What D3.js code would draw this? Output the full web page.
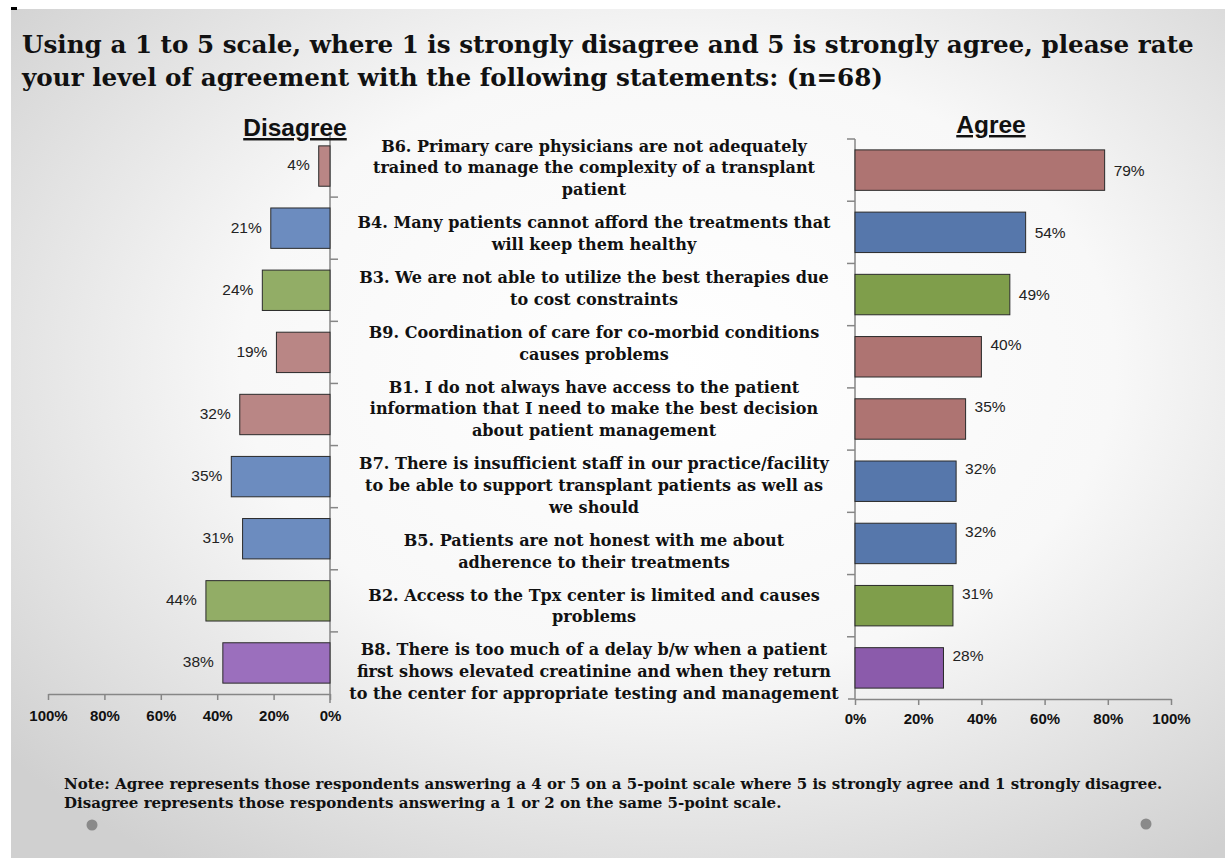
<!DOCTYPE html>
<html>
<head>
<meta charset="utf-8">
<script src="https://cdn.jsdelivr.net/npm/d3@7"></script>
<style>
  body { margin: 0; background: #fff; }
  svg { display: block; }
</style>
</head>
<body>
<div id="chart"></div>
<script>
// survey items, top to bottom
const categories = ["B6", "B4", "B3", "B9", "B1", "B7", "B5", "B2", "B8"]
const statements = [
  ["B6. Primary care physicians  are not adequately", "trained to manage the complexity of a transplant", "patient"],
  ["B4. Many patients cannot afford the treatments that", "will keep them healthy"],
  ["B3. We are not able to utilize the best therapies due", "to cost constraints"],
  ["B9. Coordination of care for co-morbid conditions", "causes problems"],
  ["B1. I do not always have access to the patient", "information that I need to make the best decision", "about patient management"],
  ["B7. There is insufficient  staff in our practice/facility", "to be able to support transplant patients as well as", "we should"],
  ["B5. Patients are not honest with me about", "adherence to their treatments"],
  ["B2. Access to the Tpx center is limited and causes", "problems"],
  ["B8.  There is too much of a delay b/w when a patient", "first shows elevated creatinine and when they return", "to the center for appropriate testing and management"]
]
const disagree = [4, 21, 24, 19, 32, 35, 31, 44, 38]
const agree = [79, 54, 49, 40, 35, 32, 32, 31, 28]
const group = ["rose", "blue", "green", "rose", "rose", "blue", "blue", "green", "purple"]
const xTicks = [0, 20, 40, 60, 80, 100]

const leftColor = {rose: "#b98685", blue: "#6c8cbf", green: "#92ad66", purple: "#9b6fbd"}
const rightColor = {rose: "#ae7472", blue: "#5677ab", green: "#7f9e4b", purple: "#8b5bab"}

const W = 1225, H = 858
const serif = "'DejaVu Serif', serif"
const sans = "'Liberation Sans', Arial, sans-serif"

const svg = d3.select("#chart").append("svg")
  .attr("width", W).attr("height", H)

// slide background
const defs = svg.append("defs")
const grad = defs.append("radialGradient").attr("id", "bg")
  .attr("cx", "55%").attr("cy", "42%").attr("r", "72%")
grad.append("stop").attr("offset", "0%").attr("stop-color", "#ffffff")
grad.append("stop").attr("offset", "50%").attr("stop-color", "#f8f8f8")
grad.append("stop").attr("offset", "100%").attr("stop-color", "#d0d0d0")

svg.append("rect").attr("x", 11).attr("y", 9).attr("width", W - 11).attr("height", H - 9)
  .attr("fill", "url(#bg)")
svg.append("rect").attr("x", 11).attr("y", 7).attr("width", 6).attr("height", 3).attr("fill", "#000")

// scale text so a line hits a given width
function fit(sel, target) {
  const w = sel.node().getComputedTextLength()
  const fs = parseFloat(sel.attr("font-size"))
  return fs * target / w
}

// title
const title = svg.append("g").attr("font-family", serif).attr("font-weight", "bold").attr("fill", "#111")
const t1 = title.append("text").attr("x", 22).attr("y", 53).attr("font-size", 22)
  .text("Using a 1 to 5 scale, where 1 is strongly disagree and 5 is strongly agree, please rate")
const titleSize = fit(t1, 1172)
t1.attr("font-size", titleSize)
title.append("text").attr("x", 22).attr("y", 86).attr("font-size", titleSize)
  .text("your level of agreement with the following statements: (n=68)")

// scales
const leftX = d3.scaleLinear().domain([0, 100]).range([330, 48])
const rightX = d3.scaleLinear().domain([0, 100]).range([855, 1171])
const leftY = d3.scaleBand().domain(categories).range([135, 694]).paddingInner(0.35).paddingOuter(0.175)
const rightY = d3.scaleBand().domain(categories).range([139, 699]).paddingInner(0.35).paddingOuter(0.175)

const axisColor = "#868686"

// ---- left (disagree) ----
const left = svg.append("g")

left.append("g")
  .attr("transform", "translate(0,694)")
  .call(d3.axisBottom(leftX).tickValues(xTicks).tickFormat(d => d + "%").tickSize(6).tickSizeOuter(0))
  .call(g => g.selectAll("path, line").attr("stroke", axisColor).attr("stroke-width", 1.5))
  .call(g => g.selectAll("text").attr("font-family", sans).attr("font-weight", "bold")
    .attr("font-size", 15).attr("fill", "#111").attr("dy", "1.2em"))

left.append("line").attr("x1", leftX(0)).attr("x2", leftX(0)).attr("y1", 133).attr("y2", 703)
  .attr("stroke", axisColor).attr("stroke-width", 1.5)

left.selectAll(".ctick").data(categories.slice(1)).enter().append("line")
  .attr("x1", leftX(0)).attr("x2", leftX(0) + 8)
  .attr("y1", d => leftY(d) - leftY.step() * leftY.paddingInner() / 2)
  .attr("y2", d => leftY(d) - leftY.step() * leftY.paddingInner() / 2)
  .attr("stroke", axisColor).attr("stroke-width", 1.5)

left.selectAll("rect.bar").data(categories).enter().append("rect")
  .attr("x", (d, i) => leftX(disagree[i]))
  .attr("y", d => leftY(d))
  .attr("width", (d, i) => leftX(0) - leftX(disagree[i]))
  .attr("height", leftY.bandwidth())
  .attr("fill", (d, i) => leftColor[group[i]])
  .attr("stroke", "#2a2a2a").attr("stroke-width", 1)

left.selectAll("text.val").data(categories).enter().append("text")
  .attr("x", (d, i) => leftX(disagree[i]) - 9)
  .attr("y", d => leftY(d) + leftY.bandwidth() / 2 - 1)
  .attr("dy", "0.35em")
  .attr("text-anchor", "end")
  .attr("font-family", sans).attr("font-size", 15.5).attr("fill", "#222")
  .text((d, i) => disagree[i] + "%")

left.append("text").attr("x", 295).attr("y", 136).attr("text-anchor", "middle")
  .attr("font-family", sans).attr("font-weight", "bold").attr("font-size", 24.5)
  .attr("text-decoration", "underline").attr("fill", "#111").text("Disagree")

// ---- right (agree) ----
const right = svg.append("g")

right.append("g")
  .attr("transform", "translate(0,699)")
  .call(d3.axisBottom(rightX).tickValues(xTicks).tickFormat(d => d + "%").tickSize(6).tickSizeOuter(0))
  .call(g => g.selectAll("text").attr("font-family", sans).attr("font-weight", "bold")
    .attr("font-size", 15).attr("fill", "#111").attr("dy", "1.05em"))
  .call(g => g.selectAll("path, line").attr("stroke", axisColor).attr("stroke-width", 1.5))

right.append("line").attr("x1", 848).attr("x2", rightX(0)).attr("y1", 699).attr("y2", 699)
  .attr("stroke", axisColor).attr("stroke-width", 1.5)
right.append("line").attr("x1", rightX(0)).attr("x2", rightX(0)).attr("y1", 139).attr("y2", 699)
  .attr("stroke", axisColor).attr("stroke-width", 1.5)

right.selectAll(".ctick").data(categories).enter().append("line")
  .attr("x1", rightX(0) - 8).attr("x2", rightX(0))
  .attr("y1", d => rightY(d) - rightY.step() * rightY.paddingInner() / 2)
  .attr("y2", d => rightY(d) - rightY.step() * rightY.paddingInner() / 2)
  .attr("stroke", axisColor).attr("stroke-width", 1.5)

right.selectAll("rect.bar").data(categories).enter().append("rect")
  .attr("x", rightX(0))
  .attr("y", d => rightY(d))
  .attr("width", (d, i) => rightX(agree[i]) - rightX(0))
  .attr("height", rightY.bandwidth())
  .attr("fill", (d, i) => rightColor[group[i]])
  .attr("stroke", "#2a2a2a").attr("stroke-width", 1)

// the first three labels sit mid-bar, the rest near the bar top (as in the slide)
right.selectAll("text.val").data(categories).enter().append("text")
  .attr("x", (d, i) => rightX(agree[i]) + 9)
  .attr("y", (d, i) => i < 3 ? rightY(d) + rightY.bandwidth() / 2 : rightY(d) + 8)
  .attr("dy", "0.35em")
  .attr("font-family", sans).attr("font-size", 15.5).attr("fill", "#222")
  .text((d, i) => agree[i] + "%")

right.append("text").attr("x", 991).attr("y", 133).attr("text-anchor", "middle")
  .attr("font-family", sans).attr("font-weight", "bold").attr("font-size", 24.5)
  .attr("text-decoration", "underline").attr("fill", "#111").text("Agree")

// ---- statements in the middle, flowed as one text box ----
const mid = svg.append("g").attr("font-family", serif).attr("font-weight", "bold").attr("fill", "#111")
  .attr("text-anchor", "middle")
const probe = mid.append("text").attr("font-size", 15).text(statements[8][2])
const midSize = fit(probe, 490)
probe.remove()
const lineH = 21.8, paraGap = 11.2
let yy = 146

statements.forEach((lines, i) => {
  const t = mid.append("text").attr("font-size", midSize)
  lines.forEach(s => {
    t.append("tspan").attr("x", 594).attr("y", yy).attr("dy", "0.35em").text(s)
    yy += lineH
  })
  yy += paraGap
})

// ---- note ----
const note = svg.append("g").attr("font-family", serif).attr("font-weight", "bold").attr("fill", "#111")
const n1 = note.append("text").attr("x", 64).attr("y", 789).attr("font-size", 12)
  .text("Note: Agree represents those respondents answering a 4 or 5 on a 5-point scale where 5 is strongly agree and 1 strongly disagree.")
const noteSize = fit(n1, 1099)
n1.attr("font-size", noteSize)
note.append("text").attr("x", 64).attr("y", 808).attr("font-size", noteSize)
  .text("Disagree represents those respondents answering a 1 or 2 on the same 5-point scale.")

svg.append("circle").attr("cx", 92).attr("cy", 825).attr("r", 5.5).attr("fill", "#8a8a8a")
svg.append("circle").attr("cx", 1146).attr("cy", 824).attr("r", 5.5).attr("fill", "#8a8a8a")
</script>
</body>
</html>
